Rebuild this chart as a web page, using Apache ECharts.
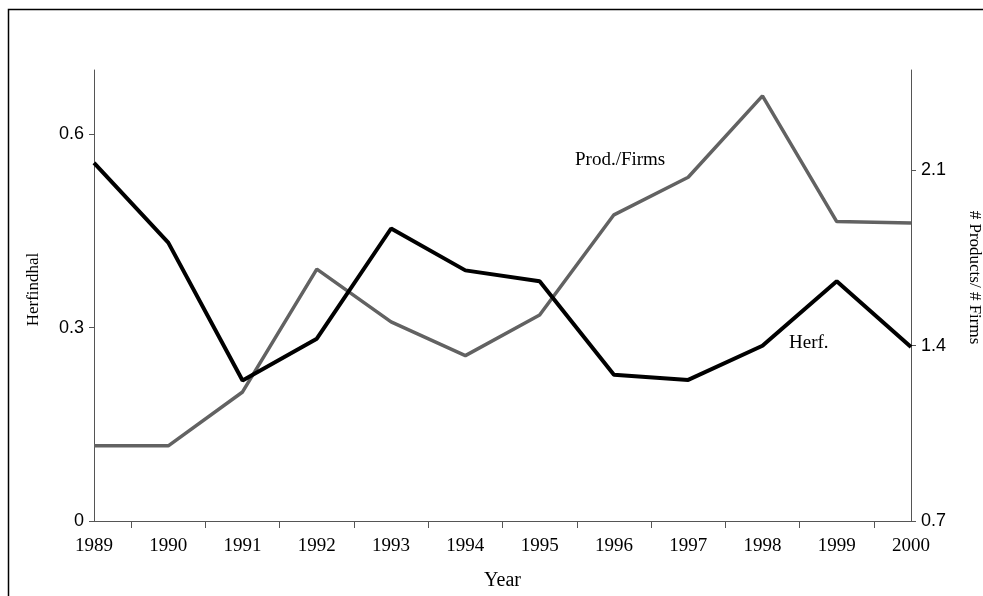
<!DOCTYPE html>
<html>
<head>
<meta charset="utf-8">
<script src="https://cdn.jsdelivr.net/npm/echarts@6/dist/echarts.min.js"></script>
<style>
    html, body { margin: 0; padding: 0; background: #fff; }
    #chart { width: 983px; height: 596px; }
</style>
</head>
<body>
<div id="chart"></div>
<script>
    // values
    const years = [1989, 1990, 1991, 1992, 1993, 1994, 1995, 1996, 1997, 1998, 1999, 2000]
    const herf = [0.556, 0.432, 0.218, 0.283, 0.454, 0.389, 0.372, 0.227, 0.219, 0.272, 0.372, 0.270]
    const prodFirms = [1.0, 1.0, 1.215, 1.705, 1.495, 1.36, 1.522, 1.922, 2.072, 2.397, 1.895, 1.889]
    const leftTicks = { min: 0, max: 0.7, interval: 0.3 }
    const rightTicks = { min: 0.7, max: 2.5, interval: 0.7 }

    const serif = '"Liberation Serif", "DejaVu Serif", serif'
    const sans = '"Liberation Sans", Arial, sans-serif'
    const axisGrey = '#555'

    let chart = echarts.init(document.getElementById('chart'))

    let option = {
        animation: false,
        grid: {
            left: 94,
            right: 72,
            top: 70,
            bottom: 75,
            outerBoundsMode: 'none'
        },
        graphic: [
            {
                // frame round the figure, its right and bottom edges fall outside
                type: 'rect',
                shape: { x: 8.5, y: 9.5, width: 1200, height: 900 },
                style: { fill: null, stroke: '#000', lineWidth: 1.5 },
                silent: true
            },
            {
                type: 'text',
                left: 575,
                top: 151,
                style: { text: 'Prod./Firms', font: '19px ' + serif, fill: '#000' }
            },
            {
                type: 'text',
                left: 789,
                top: 334,
                style: { text: 'Herf.', font: '19px ' + serif, fill: '#000' }
            }
        ],
        xAxis: {
            type: 'value',
            min: years[0],
            max: years[years.length - 1],
            interval: 1,
            name: 'Year',
            nameLocation: 'middle',
            nameGap: 50,
            nameTextStyle: { fontFamily: serif, fontSize: 20, color: '#000' },
            axisLine: { lineStyle: { color: axisGrey, width: 1 } },
            axisTick: { show: false },
            minorTick: { show: true, splitNumber: 2, length: 7, lineStyle: { color: axisGrey, width: 1 } },
            splitLine: { show: false },
            minorSplitLine: { show: false },
            axisLabel: {
                margin: 16,
                fontFamily: serif,
                fontSize: 19,
                color: '#000',
                formatter: function (v) { return String(v) }
            }
        },
        yAxis: [
            {
                type: 'value',
                position: 'left',
                min: leftTicks.min,
                max: leftTicks.max,
                interval: leftTicks.interval,
                name: 'Herfindhal',
                nameLocation: 'middle',
                nameGap: 52,
                nameTextStyle: { fontFamily: serif, fontSize: 17, color: '#000', padding: [0, 0, 0, 12] },
                axisLine: { show: true, lineStyle: { color: axisGrey, width: 1 } },
                axisTick: { show: true, length: 5, lineStyle: { color: axisGrey } },
                splitLine: { show: false },
                axisLabel: {
                    margin: 10,
                    fontFamily: sans,
                    fontSize: 18,
                    color: '#000',
                    showMaxLabel: false,
                    formatter: function (v) { return v === 0 ? '0' : v.toFixed(1) }
                }
            },
            {
                type: 'value',
                position: 'right',
                min: rightTicks.min,
                max: rightTicks.max,
                interval: rightTicks.interval,
                name: '# Products/ # Firms',
                nameLocation: 'middle',
                nameRotate: -90,
                nameGap: 55,
                nameTextStyle: { fontFamily: serif, fontSize: 17, color: '#000', padding: [0, 36, 0, 0] },
                axisLine: { show: true, lineStyle: { color: axisGrey, width: 1 } },
                axisTick: { show: true, length: 5, lineStyle: { color: axisGrey } },
                splitLine: { show: false },
                axisLabel: {
                    margin: 10,
                    fontFamily: sans,
                    fontSize: 18,
                    color: '#000',
                    showMaxLabel: false,
                    formatter: function (v) { return v.toFixed(1) }
                }
            }
        ],
        series: [
            {
                name: 'Prod./Firms',
                type: 'line',
                yAxisIndex: 1,
                symbol: 'none',
                lineStyle: { color: '#626262', width: 3.5 },
                data: years.map((y, i) => [y, prodFirms[i]])
            },
            {
                name: 'Herf.',
                type: 'line',
                yAxisIndex: 0,
                symbol: 'none',
                lineStyle: { color: '#000', width: 4 },
                data: years.map((y, i) => [y, herf[i]])
            }
        ]
    }

    chart.setOption(option)
</script>
</body>
</html>
